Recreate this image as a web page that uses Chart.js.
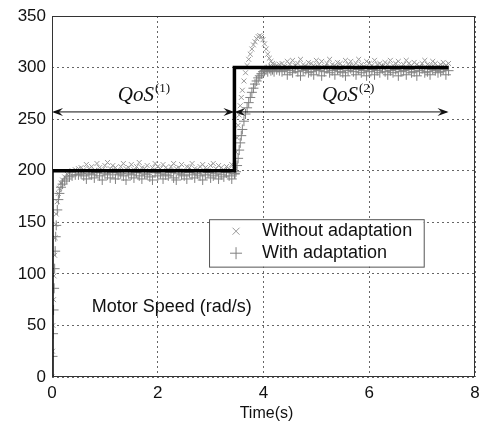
<!DOCTYPE html>
<html>
<head>
<meta charset="utf-8">
<script src="https://cdn.jsdelivr.net/npm/chart.js@4.4.0/dist/chart.umd.min.js"></script>
<style>
  html, body { margin: 0; padding: 0; background: #fff; overflow: hidden; }
  #wrap { width: 481px; height: 426px; }
</style>
</head>
<body>
<div id="wrap"><canvas id="chartMotor"></canvas></div>
<script>
// ===== Motor speed: with / without adaptation =====

// Time (s)
const tiempo = [
    0, 0.01, 0.02, 0.03, 0.04, 0.05, 0.06, 0.07, 0.08, 0.10, 0.12, 0.14, 0.17, 0.20, 0.24, 0.28, 0.33, 0.38, 0.44, 0.50,
    0.55, 0.60, 0.65, 0.70, 0.75, 0.80, 0.85, 0.90, 0.95, 1.00,
    1.05, 1.10, 1.15, 1.20, 1.25, 1.30, 1.35, 1.40, 1.45, 1.50,
    1.55, 1.60, 1.65, 1.70, 1.75, 1.80, 1.85, 1.90, 1.95, 2.00,
    2.05, 2.10, 2.15, 2.20, 2.25, 2.30, 2.35, 2.40, 2.45, 2.50,
    2.55, 2.60, 2.65, 2.70, 2.75, 2.80, 2.85, 2.90, 2.95, 3.00,
    3.05, 3.10, 3.15, 3.20, 3.25, 3.30, 3.35, 3.40, 3.45,
    3.46, 3.48, 3.50, 3.52, 3.54, 3.56, 3.58, 3.60, 3.63, 3.66,
    3.69, 3.72, 3.75, 3.78, 3.81, 3.84, 3.87, 3.90, 3.93, 3.96,
    3.99, 4.02, 4.05, 4.08, 4.11, 4.14, 4.17, 4.20, 4.25, 4.30,
    4.35, 4.40, 4.45, 4.50, 4.55, 4.60, 4.65, 4.70, 4.75, 4.80,
    4.85, 4.90, 4.95, 5.00, 5.05, 5.10, 5.15, 5.20, 5.25, 5.30,
    5.35, 5.40, 5.45, 5.50, 5.55, 5.60, 5.65, 5.70, 5.75, 5.80,
    5.85, 5.90, 5.95, 6.00, 6.05, 6.10, 6.15, 6.20, 6.25, 6.30,
    6.35, 6.40, 6.45, 6.50, 6.55, 6.60, 6.65, 6.70, 6.75, 6.80,
    6.85, 6.90, 6.95, 7.00, 7.05, 7.10, 7.15, 7.20, 7.25, 7.30,
    7.35, 7.40, 7.45, 7.50
];

// Without adaptation (x markers)
const sinAdaptacion = [
    0, 25, 50, 75, 98, 118, 135, 148, 158, 170, 178, 183, 188, 191, 194, 197, 198, 200, 201, 202,
    203, 201, 206, 202, 204, 200, 207, 203, 201, 205,
    208, 202, 205, 203, 200, 204, 207, 202, 203, 206,
    201, 204, 208, 203, 202, 205, 200, 203, 207, 204,
    202, 206, 203, 201, 204, 207, 202, 203, 206, 200,
    204, 203, 207, 202, 201, 204, 206, 203, 200, 205,
    207, 202, 205, 203, 201, 204, 202, 206, 203,
    205, 218, 232, 244, 254, 263, 271, 278, 287, 295,
    302, 308, 313, 318, 322, 325, 328, 330, 331, 330,
    327, 323, 318, 313, 309, 306, 304, 303, 302, 303,
    304, 301, 306, 303, 307, 302, 304, 308, 303, 301,
    305, 304, 302, 307, 303, 306, 301, 304, 308, 303,
    302, 305, 304, 301, 307, 303, 306, 302, 304, 308,
    303, 301, 306, 304, 302, 307, 303, 304, 301, 305,
    303, 307, 302, 304, 306, 301, 303, 307, 304, 302,
    305, 303, 301, 304, 307, 303, 302, 306, 304, 301,
    303, 305, 302, 304
];

// With adaptation (+ markers)
const conAdaptacion = [
    0, 20, 42, 65, 86, 105, 122, 136, 147, 162, 172, 178, 184, 187, 190, 192, 194, 195, 196, 196,
    197, 195, 192, 197, 196, 193, 198, 195, 191, 197,
    196, 193, 198, 192, 196, 197, 195, 191, 197, 196,
    193, 198, 195, 192, 197, 196, 194, 191, 198, 195,
    197, 192, 196, 195, 198, 193, 191, 197, 196, 195,
    192, 198, 196, 193, 197, 195, 191, 196, 198, 193,
    195, 197, 192, 196, 194, 198, 195, 192, 197,
    197, 199, 205, 212, 220, 227, 234, 240, 248, 255,
    261, 266, 271, 276, 280, 284, 287, 290, 292, 294,
    296, 297, 298, 296, 299, 297, 298, 296, 298, 297,
    296, 298, 293, 297, 295, 299, 296, 292, 297, 298,
    295, 296, 293, 298, 297, 292, 296, 299, 295, 297,
    293, 298, 296, 295, 292, 297, 299, 296, 293, 298,
    295, 297, 292, 296, 298, 293, 297, 295, 299, 296,
    293, 297, 295, 298, 292, 296, 297, 293, 298, 295,
    296, 292, 297, 299, 295, 296, 293, 298, 297, 295,
    296, 298, 293, 297
];

// Reference (setpoint) step
const refTiempo = [0, 0, 3.45, 3.45, 7.5];
const refVelocidad = [0, 200, 200, 300, 300];

// QoS regions (arrows)
const qosLimites = [0, 3.45, 7.5];
const qosNivel = 257;

const ticksY = [0, 50, 100, 150, 200, 250, 300, 350];
const ticksX = [0, 2, 4, 6, 8];

function aPuntos(xs, ys) {
    return xs.map((x, i) => ({ x: x, y: ys[i] }));
}

const SANS = '"Liberation Sans", Arial, sans-serif';
const SERIF = '"Liberation Serif", "Times New Roman", serif';

function flecha(ctx, x, y, dir) {
    ctx.beginPath();
    ctx.moveTo(x, y);
    ctx.lineTo(x - dir * 11, y - 4);
    ctx.lineTo(x - dir * 7, y);
    ctx.lineTo(x - dir * 11, y + 4);
    ctx.closePath();
    ctx.fill();
}

const decoraciones = {
    id: 'decoraciones',
    afterDraw(chart) {
        const ctx = chart.ctx;
        const a = chart.chartArea;
        const sx = chart.scales.x, sy = chart.scales.y;
        ctx.save();

        // frame
        ctx.strokeStyle = '#333';
        ctx.lineWidth = 1;
        ctx.strokeRect(a.left + 0.5, a.top + 0.5, a.right - a.left - 1, a.bottom - a.top - 1);

        // tick labels
        ctx.fillStyle = '#111';
        ctx.font = '17px ' + SANS;
        ctx.textAlign = 'right';
        ctx.textBaseline = 'middle';
        ticksY.forEach(v => ctx.fillText(String(v), a.left - 6, sy.getPixelForValue(v)));
        ctx.textAlign = 'center';
        ticksX.forEach(v => ctx.fillText(String(v), sx.getPixelForValue(v), a.bottom + 16));

        ctx.font = '16px ' + SANS;
        ctx.fillText('Time(s)', (a.left + a.right) / 2 + 3, a.bottom + 37);

        // QoS arrows
        ctx.strokeStyle = '#111';
        ctx.fillStyle = '#111';
        const yq = sy.getPixelForValue(qosNivel);
        for (let i = 0; i < qosLimites.length - 1; i++) {
            const x0 = sx.getPixelForValue(qosLimites[i]);
            const x1 = sx.getPixelForValue(qosLimites[i + 1]);
            ctx.beginPath();
            ctx.moveTo(x0 + 2, yq);
            ctx.lineTo(x1 - 2, yq);
            ctx.stroke();
            flecha(ctx, x0, yq, -1);
            flecha(ctx, x1, yq, 1);
        }

        // QoS labels
        const etiquetas = [
            { t: 1.73, sup: '(1)' },
            { t: 5.59, sup: '(2)' }
        ];
        ctx.textBaseline = 'alphabetic';
        ctx.textAlign = 'left';
        etiquetas.forEach(e => {
            const yb = sy.getPixelForValue(268);
            ctx.font = 'italic 21px ' + SERIF;
            const w1 = ctx.measureText('QoS').width;
            ctx.font = '13px ' + SERIF;
            const w2 = ctx.measureText(e.sup).width;
            const x = sx.getPixelForValue(e.t) - (w1 + w2) / 2;
            ctx.font = 'italic 21px ' + SERIF;
            ctx.fillText('QoS', x, yb);
            ctx.font = '13px ' + SERIF;
            ctx.fillText(e.sup, x + w1 + 1, yb - 9);
        });

        // axis caption inside the plot
        ctx.font = '18px ' + SANS;
        ctx.textBaseline = 'middle';
        ctx.fillText('Motor Speed (rad/s)', sx.getPixelForValue(0.75), sy.getPixelForValue(68));

        // legend box
        const lx = sx.getPixelForValue(2.97), rx = sx.getPixelForValue(7.03);
        const ty = sy.getPixelForValue(153), by = sy.getPixelForValue(107);
        ctx.fillStyle = '#fff';
        ctx.fillRect(lx, ty, rx - lx, by - ty);
        ctx.strokeStyle = '#555';
        ctx.strokeRect(lx + 0.5, ty + 0.5, rx - lx, by - ty);
        const filas = [
            { ds: chart.data.datasets[1], y: ty + 12 },
            { ds: chart.data.datasets[2], y: ty + 34 }
        ];
        filas.forEach(f => {
            ctx.strokeStyle = f.ds.borderColor;
            ctx.lineWidth = 1;
            const mx = lx + 27, r = f.ds.pointStyle === 'cross' ? 6 : 3.5;
            ctx.beginPath();
            if (f.ds.pointStyle === 'cross') {
                ctx.moveTo(mx - r, f.y); ctx.lineTo(mx + r, f.y);
                ctx.moveTo(mx, f.y - r); ctx.lineTo(mx, f.y + r);
            } else {
                ctx.moveTo(mx - r, f.y - r); ctx.lineTo(mx + r, f.y + r);
                ctx.moveTo(mx - r, f.y + r); ctx.lineTo(mx + r, f.y - r);
            }
            ctx.stroke();
            ctx.fillStyle = '#111';
            ctx.font = '18px ' + SANS;
            ctx.textAlign = 'left';
            ctx.fillText(f.ds.label, lx + 53, f.y);
        });

        ctx.restore();
    }
};

document.addEventListener('DOMContentLoaded', function() {
    const ctx = document.getElementById('chartMotor');
    new Chart(ctx, {
        type: 'scatter',
        data: {
            datasets: [
                {
                    label: 'Reference',
                    data: aPuntos(refTiempo, refVelocidad),
                    showLine: true,
                    borderColor: '#000',
                    borderWidth: 3.5,
                    pointRadius: 0,
                    order: 0
                },
                {
                    label: 'Without adaptation',
                    data: aPuntos(tiempo, sinAdaptacion),
                    pointStyle: 'crossRot',
                    pointRadius: 3.5,
                    borderColor: '#9a9a9a',
                    backgroundColor: '#9a9a9a',
                    pointBorderWidth: 1,
                    order: 2
                },
                {
                    label: 'With adaptation',
                    data: aPuntos(tiempo, conAdaptacion),
                    pointStyle: 'cross',
                    pointRadius: 5,
                    borderColor: '#808080',
                    backgroundColor: '#808080',
                    pointBorderWidth: 1,
                    order: 1
                }
            ]
        },
        options: {
            responsive: true,
            maintainAspectRatio: false,
            animation: false,
            layout: { padding: { left: 52, top: 16, right: 4, bottom: 49 } },
            plugins: {
                legend: { display: false },
                tooltip: { enabled: false }
            },
            scales: {
                x: {
                    type: 'linear',
                    min: 0,
                    max: 8,
                    ticks: { display: false, stepSize: 2 },
                    border: { display: false, dash: [2, 3] },
                    grid: { color: '#666', lineWidth: 1, tickLength: 0, drawTicks: false },
                    afterFit: s => { s.height = 0; }
                },
                y: {
                    min: 0,
                    max: 350,
                    ticks: { display: false, stepSize: 50 },
                    border: { display: false, dash: [2, 3] },
                    grid: { color: '#666', lineWidth: 1, tickLength: 0, drawTicks: false },
                    afterFit: s => { s.width = 0; }
                }
            }
        },
        plugins: [decoraciones]
    });
});
</script>
</body>
</html>
